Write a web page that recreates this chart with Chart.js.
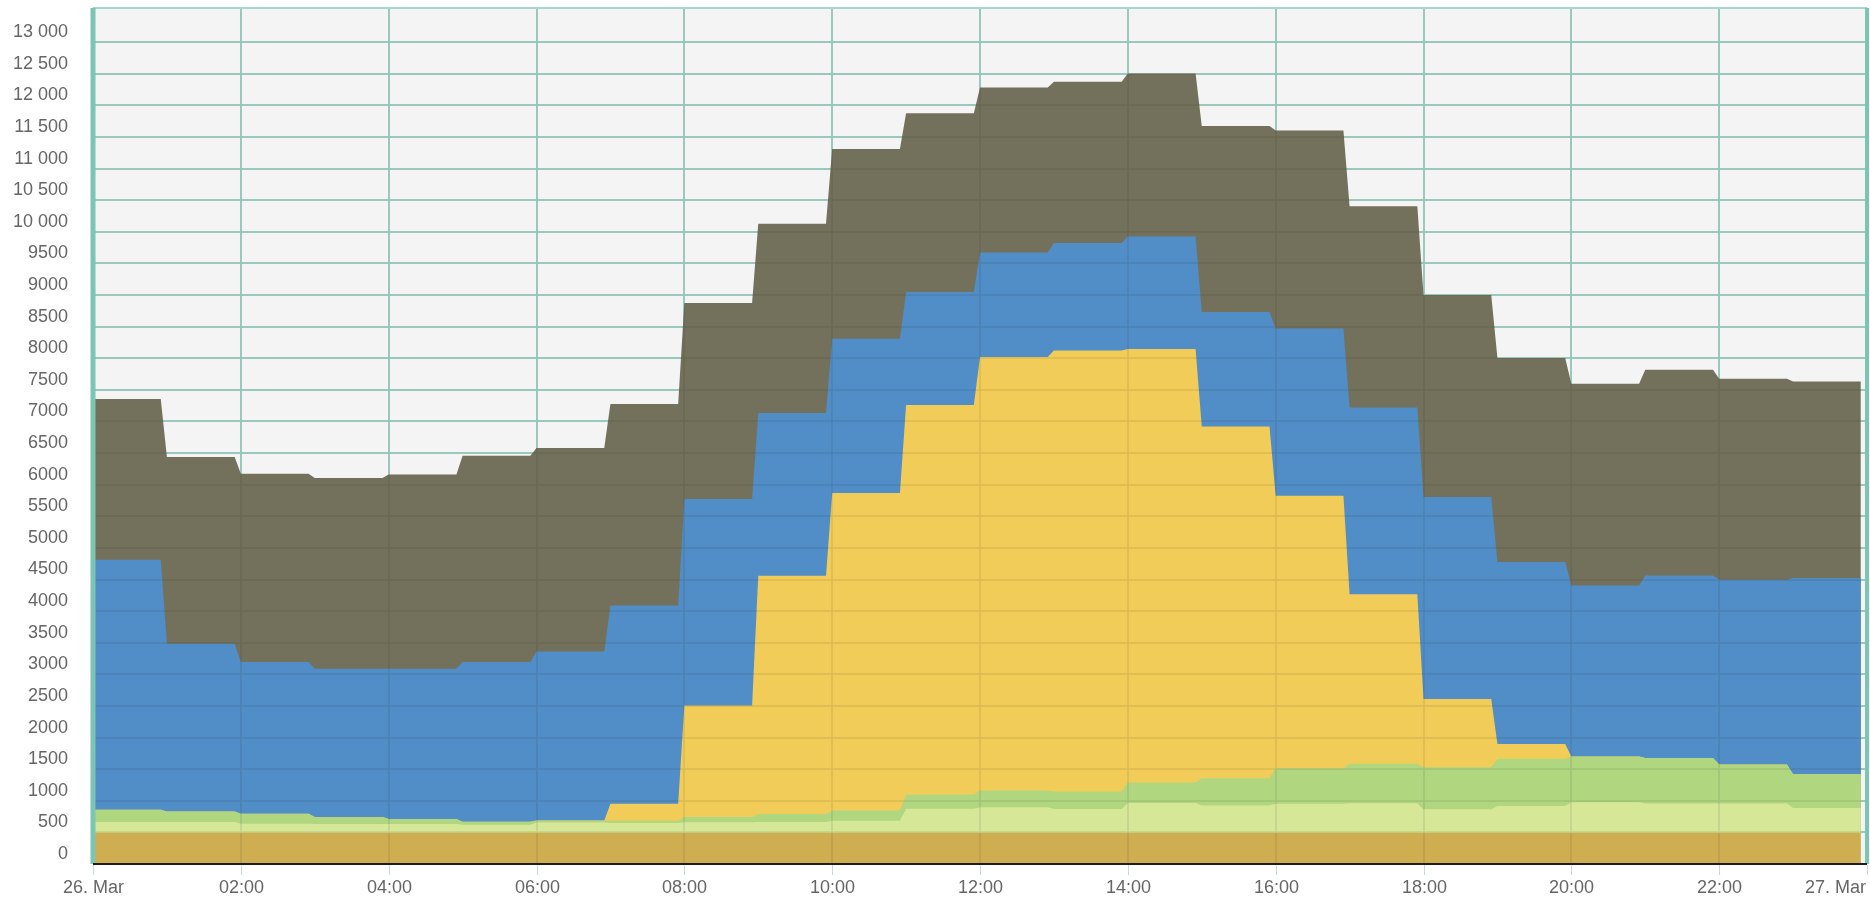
<!DOCTYPE html>
<html>
<head>
<meta charset="utf-8">
<title>Stacked hourly areas</title>
<script src="https://cdn.jsdelivr.net/npm/chart.js@4.4.1/dist/chart.umd.min.js"></script>
<style>
    html, body { margin: 0; padding: 0; background: #ffffff; }
    #wrap { width: 1870px; height: 901px; position: relative; }
</style>
</head>
<body>
<div id="wrap"><canvas id="mixChart"></canvas></div>
<script>
// Hourly values, 00:00 .. 23:00 (each hour is flat, 5 min ramp to the next)
const ochreValues = [495, 495, 495, 495, 495, 495, 495, 495, 495, 495, 495, 495,
                     495, 495, 495, 495, 495, 495, 495, 495, 495, 495, 495, 495];
const paleGreenValues = [169, 169, 142, 137, 137, 126, 160, 155, 165, 170, 190, 377,
                         403, 375, 470, 432, 457, 465, 370, 421, 483, 462, 462, 391];
const greenValues = [195, 166, 158, 113, 79, 48, 35, 35, 83, 126, 163, 228,
                     266, 278, 325, 428, 563, 625, 665, 747, 724, 719, 618, 534];
const yellowValues = [0, 0, 0, 0, 0, 0, 0, 269, 1765, 3767, 5019, 6159,
                      6854, 6975, 6855, 5566, 4310, 2680, 1080, 235, 0, 0, 0, 0];
const blueValues = [3954, 2654, 2399, 2344, 2378, 2525, 2672, 3136, 3265, 2575, 2441, 1788,
                    1655, 1698, 1781, 1809, 2646, 2955, 3194, 2877, 2704, 2888, 2920, 3102];
const oliveValues = [2541, 2953, 2979, 3016, 3071, 3263, 3218, 3185, 3099, 2993, 3002, 2830,
                     2609, 2551, 2578, 2942, 3131, 3184, 3195, 3228, 3190, 3254, 3180, 3109];

// Axis ticks
const xTickMinutes = [0, 120, 240, 360, 480, 600, 720, 840, 960, 1080, 1200, 1320, 1440];
const xTickLabels = ['26. Mar', '02:00', '04:00', '06:00', '08:00', '10:00', '12:00',
                     '14:00', '16:00', '18:00', '20:00', '22:00', '27. Mar'];
const yTickValues = [0, 500, 1000, 1500, 2000, 2500, 3000, 3500, 4000, 4500, 5000, 5500, 6000,
                     6500, 7000, 7500, 8000, 8500, 9000, 9500, 10000, 10500, 11000, 11500,
                     12000, 12500, 13000];

const gridColor = '#a6d7cc';
const labelFont = '18px "Liberation Sans", Arial, sans-serif';

// one point at the start and one at hh:55 of every hour
function toPoints(values) {
    const pts = [];
    values.forEach((v, h) => {
        pts.push({ x: h * 60, y: v });
        pts.push({ x: h * 60 + 55, y: v });
    });
    return pts;
}

function formatTick(v) {
    if (v >= 10000) {
        return Math.floor(v / 1000) + ' ' + String(v % 1000).padStart(3, '0');
    }
    return String(v);
}

function layer(values, color) {
    return {
        data: toPoints(values),
        backgroundColor: color,
        borderWidth: 0,
        pointRadius: 0,
        tension: 0,
        fill: 'origin'
    };
}

// background, grid showing through the areas, borders and x labels
const framePlugin = {
    id: 'frame',
    beforeDraw(chart) {
        const { ctx, chartArea: a } = chart;
        ctx.save();
        ctx.fillStyle = '#f4f4f4';
        ctx.fillRect(a.left, a.top, a.right - a.left, a.bottom - a.top);
        ctx.restore();
    },
    afterDatasetsDraw(chart) {
        const { ctx, chartArea: a, scales: { x, y } } = chart;
        ctx.save();

        // darker grid over the filled areas
        ctx.strokeStyle = 'rgba(30, 40, 30, 0.11)';
        ctx.lineWidth = 1.5;
        ctx.beginPath();
        yTickValues.forEach(v => {
            if (v === 0) return;
            const py = Math.round(y.getPixelForValue(v));
            ctx.moveTo(a.left, py);
            ctx.lineTo(a.right, py);
        });
        xTickMinutes.forEach(m => {
            const px = Math.round(x.getPixelForValue(m));
            ctx.moveTo(px, a.top);
            ctx.lineTo(px, a.bottom);
        });
        ctx.stroke();

        // top border
        ctx.strokeStyle = gridColor;
        ctx.lineWidth = 2;
        ctx.beginPath();
        ctx.moveTo(a.left, a.top);
        ctx.lineTo(a.right, a.top);
        ctx.stroke();

        // left and right teal bars
        ctx.strokeStyle = '#7cc4b3';
        ctx.lineWidth = 5;
        ctx.beginPath();
        ctx.moveTo(a.left, a.top);
        ctx.lineTo(a.left, a.bottom);
        ctx.stroke();
        ctx.lineWidth = 4;
        ctx.beginPath();
        ctx.moveTo(a.right, a.top);
        ctx.lineTo(a.right, a.bottom);
        ctx.stroke();

        // x axis line
        ctx.strokeStyle = '#1e1e1e';
        ctx.lineWidth = 2;
        ctx.beginPath();
        ctx.moveTo(a.left, a.bottom);
        ctx.lineTo(a.right, a.bottom);
        ctx.stroke();

        // tick marks and labels
        ctx.strokeStyle = '#ccd6eb';
        ctx.lineWidth = 1;
        ctx.font = labelFont;
        ctx.fillStyle = '#666666';
        ctx.textBaseline = 'middle';
        xTickMinutes.forEach((m, i) => {
            const px = Math.round(x.getPixelForValue(m)) + 0.5;
            ctx.beginPath();
            ctx.moveTo(px, a.bottom + 1);
            ctx.lineTo(px, a.bottom + 11);
            ctx.stroke();
            const last = i === xTickMinutes.length - 1;
            ctx.textAlign = last ? 'right' : 'center';
            ctx.fillText(xTickLabels[i], last ? a.right - 1 : px, a.bottom + 24);
        });
        ctx.restore();
    }
};

const ctx = document.getElementById('mixChart');
new Chart(ctx, {
    type: 'line',
    data: {
        datasets: [
            layer(ochreValues, '#cfae52'),
            layer(paleGreenValues, '#d6e798'),
            layer(greenValues, '#b1d680'),
            layer(yellowValues, '#f2cc58'),
            layer(blueValues, '#518dc7'),
            layer(oliveValues, '#73715b')
        ]
    },
    options: {
        responsive: true,
        maintainAspectRatio: false,
        animation: false,
        events: [],
        layout: {
            padding: { top: 8, right: 3, left: 0, bottom: 0 }
        },
        plugins: {
            legend: { display: false },
            tooltip: { enabled: false }
        },
        scales: {
            x: {
                type: 'linear',
                min: 0,
                max: 1440,
                afterBuildTicks: scale => {
                    scale.ticks = xTickMinutes.map(v => ({ value: v }));
                },
                afterFit: scale => {
                    scale.height = 37;
                },
                ticks: { display: false },
                grid: { color: gridColor, lineWidth: 2, drawTicks: false },
                border: { display: false }
            },
            y: {
                stacked: true,
                min: 0,
                max: 13540,
                afterBuildTicks: scale => {
                    scale.ticks = yTickValues.map(v => ({ value: v }));
                },
                afterFit: scale => {
                    scale.width = 93;
                    scale.paddingTop = 0;
                    scale.paddingBottom = 0;
                },
                ticks: {
                    autoSkip: false,
                    padding: 25,
                    labelOffset: -10,
                    color: '#666666',
                    font: { family: '"Liberation Sans", Arial, sans-serif', size: 18 },
                    callback: value => formatTick(value)
                },
                grid: { color: gridColor, lineWidth: 2, drawTicks: false },
                border: { display: false }
            }
        }
    },
    plugins: [framePlugin]
});
</script>
</body>
</html>
